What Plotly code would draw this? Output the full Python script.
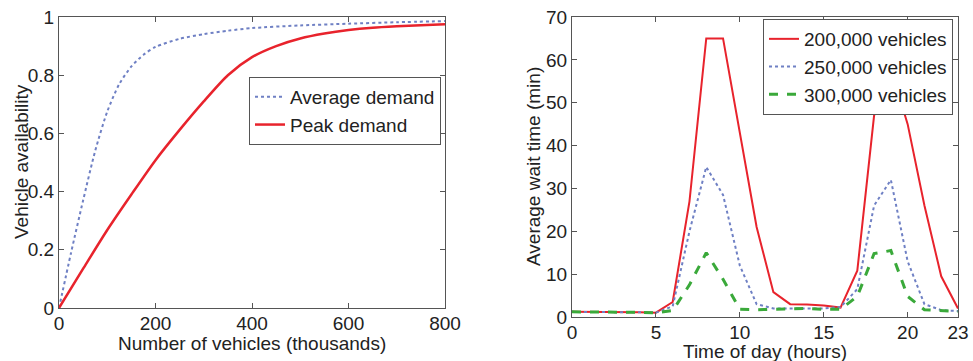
import plotly.graph_objects as go

# Left panel data
avg_x = [0, 25, 50, 75, 100, 125, 150, 175, 200, 250, 300, 350, 400, 500, 600, 700, 800]
avg_demand = [0, 0.19, 0.37, 0.54, 0.675, 0.77, 0.83, 0.87, 0.897, 0.925, 0.941, 0.953, 0.962, 0.971, 0.977, 0.982, 0.986]
peak_x = [0, 50, 100, 150, 200, 250, 300, 350, 400, 450, 500, 550, 600, 650, 700, 750, 800]
peak_demand = [0, 0.135, 0.268, 0.39, 0.508, 0.612, 0.71, 0.80, 0.862, 0.90, 0.926, 0.943, 0.955, 0.963, 0.968, 0.972, 0.975]

# Right panel data
hours = list(range(24))
wait_200k = [1.2, 1.2, 1.2, 1.2, 1.1, 1.0, 3.5, 27, 65, 65, 43, 21, 5.8, 3.0, 2.9, 2.7, 2.2, 10.8, 47, 58, 45, 26, 9.5, 2.0]
wait_250k = [1.2, 1.2, 1.2, 1.2, 1.1, 1.0, 2.5, 20, 35, 28.5, 12, 3, 2.0, 2.0, 2.0, 2.0, 2.3, 6.5, 26, 32, 13, 3, 1.6, 1.4]
wait_300k = [1.2, 1.2, 1.2, 1.2, 1.1, 1.0, 1.5, 7.5, 15, 8.8, 1.8, 1.7, 1.8, 2.0, 2.0, 1.8, 1.8, 4.8, 14.8, 15.5, 4.8, 1.7, 1.5, 1.3]

left_xticks = [0, 200, 400, 600, 800]
left_yticks = [0, 0.2, 0.4, 0.6, 0.8, 1]
left_yticktext = ["0", "0.2", "0.4", "0.6", "0.8", "1"]
right_xticks = [0, 5, 10, 15, 20, 23]
right_yticks = [0, 10, 20, 30, 40, 50, 60, 70]

RED = "#e8232c"
BLUE = "#6f80c4"
GREEN = "#3aa93a"
FONT = "Liberation Sans, Arial, Helvetica, sans-serif"
FS = 19
W, H = 973, 361


def px(xp):
    return xp / W


def py(yp):
    return 1 - yp / H


fig = go.Figure()

fig.add_trace(go.Scatter(x=avg_x, y=avg_demand, mode="lines", name="Average demand",
                         line=dict(color=BLUE, width=2, dash="dot", shape="spline", smoothing=0.7),
                         xaxis="x", yaxis="y", legend="legend"))
fig.add_trace(go.Scatter(x=peak_x, y=peak_demand, mode="lines", name="Peak demand",
                         line=dict(color=RED, width=2.5, shape="spline", smoothing=0.7),
                         xaxis="x", yaxis="y", legend="legend"))

fig.add_trace(go.Scatter(x=hours, y=wait_200k, mode="lines", name="200,000 vehicles",
                         line=dict(color=RED, width=2), xaxis="x2", yaxis="y2", legend="legend2"))
fig.add_trace(go.Scatter(x=hours, y=wait_250k, mode="lines", name="250,000 vehicles",
                         line=dict(color=BLUE, width=2, dash="dot"), xaxis="x2", yaxis="y2", legend="legend2"))
fig.add_trace(go.Scatter(x=hours, y=wait_300k, mode="lines", name="300,000 vehicles",
                         line=dict(color=GREEN, width=3, dash="dash"), xaxis="x2", yaxis="y2", legend="legend2"))

axis_common = dict(showline=True, linecolor="#555", linewidth=1, mirror="ticks",
                   ticks="inside", ticklen=5, tickcolor="#555", showgrid=False, zeroline=False,
                   automargin=False, ticklabeloverflow="allow",
                   tickfont=dict(size=FS, color="#222", family=FONT))

title_font = dict(size=FS, family=FONT, color="#222")
annotations = [
    dict(text="Number of vehicles (thousands)", x=px(252), y=py(343), xref="paper", yref="paper",
         xanchor="center", yanchor="middle", showarrow=False, font=title_font),
    dict(text="Vehicle availability", x=px(22), y=py(162), xref="paper", yref="paper",
         xanchor="center", yanchor="middle", textangle=-90, showarrow=False, font=title_font),
    dict(text="Time of day (hours)", x=px(765), y=py(351), xref="paper", yref="paper",
         xanchor="center", yanchor="middle", showarrow=False, font=title_font),
    dict(text="Average wait time (min)", x=px(533), y=py(167), xref="paper", yref="paper",
         xanchor="center", yanchor="middle", textangle=-90, showarrow=False, font=title_font),
]

fig.update_layout(
    width=W, height=H,
    margin=dict(l=0, r=0, t=0, b=0),
    paper_bgcolor="white", plot_bgcolor="white",
    font=dict(family=FONT, color="#222"),
    xaxis=dict(domain=[px(59), px(445)], range=[0, 800], tickvals=left_xticks,
               anchor="y", ticklabelstandoff=-2, **axis_common),
    yaxis=dict(domain=[py(308), py(17)], range=[0, 1], tickvals=left_yticks,
               ticktext=left_yticktext, anchor="x", **axis_common),
    xaxis2=dict(domain=[px(572), px(958)], range=[0, 23], tickvals=right_xticks,
                anchor="y2", ticklabelstandoff=-2, **axis_common),
    yaxis2=dict(domain=[py(317), py(17)], range=[0, 70], tickvals=right_yticks,
                anchor="x2", **axis_common),
    annotations=annotations,
    legend=dict(x=px(441), y=py(77), xanchor="right", yanchor="top",
                bordercolor="#555", borderwidth=1, bgcolor="white",
                font=dict(size=FS, family=FONT, color="#222"), tracegroupgap=0),
    legend2=dict(x=px(953), y=py(19), xanchor="right", yanchor="top",
                 bordercolor="#555", borderwidth=1, bgcolor="white",
                 font=dict(size=FS, family=FONT, color="#222"), tracegroupgap=0),
)

fig.write_html("out.html", config={"displayModeBar": False},
               post_script="document.body.style.margin='0';document.body.style.overflow='hidden';")
